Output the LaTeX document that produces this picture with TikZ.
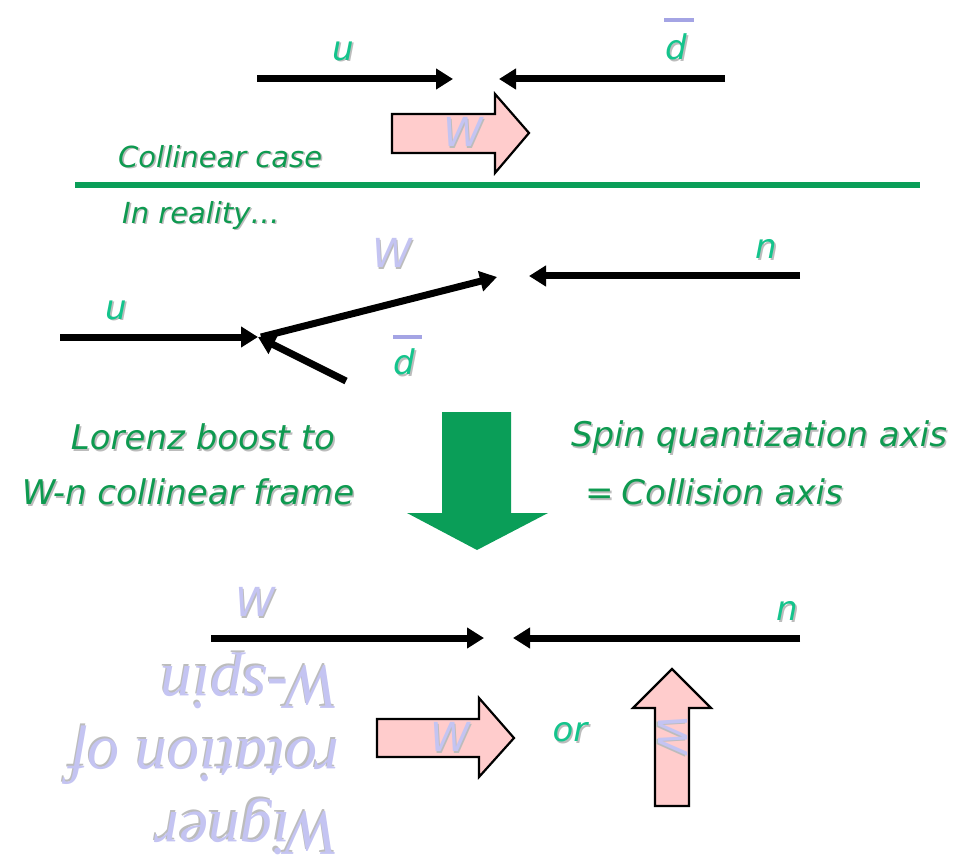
\documentclass[tikz,border=0pt]{standalone}
\usepackage{fontspec}
\setmainfont{DejaVu Sans}
\newfontfamily\serifit{Liberation Serif}
\usetikzlibrary{arrows.meta}
\definecolor{dkgreen}{HTML}{0E9A50}
\definecolor{mint}{HTML}{14C48C}
\definecolor{lav}{HTML}{C4C4F2}
\definecolor{barlav}{HTML}{A4A4E4}
\definecolor{pinkf}{HTML}{FFCCCC}
\definecolor{shadowgray}{HTML}{BCBCBC}
\definecolor{bigreen}{HTML}{0A9E58}
\newcommand{\shd}[1]{\makebox[0pt][l]{\hspace{1.6pt}\raisebox{-1.6pt}{\textcolor{shadowgray}{#1}}}#1}
\tikzset{
  part/.style={line width=7pt,-{Triangle[length=17pt,width=20pt]}},
  lbl/.style={text=mint,font=\itshape\fontsize{34}{38}\selectfont,inner sep=0pt},
  wlbl/.style={text=lav,font=\itshape\fontsize{40}{44}\selectfont,inner sep=0pt},
  txt/.style={text=dkgreen,font=\itshape\fontsize{34}{38}\selectfont,inner sep=0pt},
  small/.style={text=dkgreen,font=\itshape\fontsize{29}{33}\selectfont,inner sep=0pt},
  bigarrow/.style={draw=black,line width=2.2pt,fill=pinkf,line join=miter},
  dbar/.style={barlav,line width=4.5pt},
}
\begin{document}
\begin{tikzpicture}[x=1pt,y=-1pt]
\useasboundingbox (0,0) rectangle (955,866);
% ---------- top: collinear case
\coordinate (ua) at (257,79); \coordinate (ub) at (453,79);
\coordinate (da) at (725,79); \coordinate (db) at (499,79);
\draw[part] (ua) -- (ub);
\draw[part] (da) -- (db);
\node[lbl] (u1) at (343,52) {\shd{u}};
\node[lbl] (d1) at (676,48) {\shd{d}};
\draw[dbar] (664,20) -- (694,20);
\draw[bigarrow] (392,114) -- (495,114) -- (495,94) -- (529,133) -- (495,173) -- (495,153) -- (392,153) -- cycle;
\node[wlbl] (w1) at (463,133) {\shd{W}};
\node[small,anchor=west] (coll) at (118,157) {\shd{Collinear case}};
\draw[bigreen,line width=6pt] (75,185) -- (920,185);
\node[small,anchor=west] (real) at (122,216) {\shd{In reality\ldots}};
% ---------- middle: in reality
\coordinate (v) at (258,337);
\coordinate (u2a) at (60,337);
\coordinate (w2b) at (497,277);
\coordinate (d2a) at (346,381);
\coordinate (n2a) at (800,276); \coordinate (n2b) at (529,276);
\draw[part] (u2a) -- (v);
\draw[part] ([shift={(3,0)}]v) -- (w2b);
\draw[part] (d2a) -- (v);
\draw[part] (n2a) -- (n2b);
\node[lbl] (u2) at (116,311) {\shd{u}};
\node[wlbl] (w2) at (392,254) {\shd{W}};
\node[lbl] (n2) at (766,250) {\shd{n}};
\node[lbl] (d2) at (404,363) {\shd{d}};
\draw[dbar] (393,337) -- (422,337);
% ---------- boost arrow
\fill[bigreen] (442,412) -- (511,412) -- (511,513) -- (548,513) -- (477,550) -- (407,513) -- (442,513) -- cycle;
\node[txt] (lb1) at (203,438) {\shd{Lorenz boost to}};
\node[txt] (lb2) at (188,493) {\shd{W-n collinear frame}};
\node[txt] (sq1) at (759,438) {\shd{Spin quantization axis}};
\node[txt] (sq2) at (714,493) {\shd{=\kern-3pt\ Collision axis}};
% ---------- bottom: W-n collinear frame
\coordinate (w3a) at (211,638); \coordinate (w3b) at (484,638);
\coordinate (n3a) at (800,638); \coordinate (n3b) at (513,638);
\draw[part] (w3a) -- (w3b);
\draw[part] (n3a) -- (n3b);
\node[wlbl] (w3) at (255,603) {\shd{W}};
\node[lbl] (n3) at (787,612) {\shd{n}};
\draw[bigarrow] (377,719) -- (479,719) -- (479,698) -- (514,738) -- (479,777) -- (479,757) -- (377,757) -- cycle;
\node[wlbl] (w4) at (450,738) {\shd{W}};
\node[lbl] (or) at (570,733) {\shd{or}};
\draw[bigarrow] (655,806) -- (655,708) -- (633,708) -- (672,669) -- (711,708) -- (689,708) -- (689,806) -- cycle;
\node[wlbl,rotate=-90] (w5) at (672,735) {\shd{W}};
\node[text=lav,font=\serifit\itshape\fontsize{64}{73}\selectfont,align=left,rotate=180,inner sep=0pt] (wig) at (205,753)
  {\shd{Wigner}\\\shd{rotation of}\\\shd{W-spin}};
\end{tikzpicture}
\end{document}
